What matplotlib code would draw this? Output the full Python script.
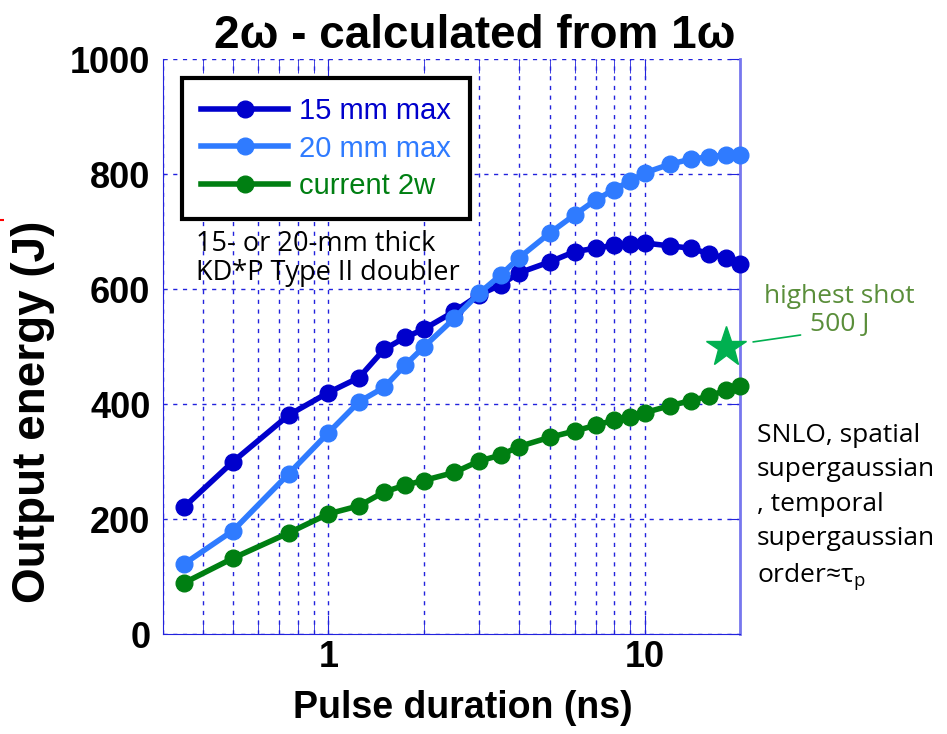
import numpy as np
import matplotlib.pyplot as plt
from matplotlib.ticker import FixedLocator, NullFormatter, FixedFormatter

# --- data ---------------------------------------------------------------
pulse_ns = [0.35, 0.5, 0.75, 1, 1.25, 1.5, 1.75, 2, 2.5, 3, 3.5, 4,
            5, 6, 7, 8, 9, 10, 12, 14, 16, 18, 20]
e_15mm = [221, 300, 381, 420, 446, 495, 516, 530, 561, 590, 607, 628,
          647, 665, 671, 676, 678, 680, 675, 671, 661, 654, 643]
e_20mm = [122, 180, 279, 350, 404, 429, 468, 499, 549, 593, 624, 654,
          697, 729, 755, 773, 788, 802, 817, 826, 830, 833, 833]
e_now = [89, 132, 176, 209, 223, 247, 259, 267, 281, 301, 311, 326,
         342, 353, 363, 372, 378, 385, 397, 406, 414, 424, 432]
shot_ns = 18
shot_J = 500

series_labels = ["15 mm max", "20 mm max", "current 2w"]
series_colors = ["#0000CC", "#2F7BFF", "#007F12"]
y_ticks = [0, 200, 400, 600, 800, 1000]
x_major = [1, 10]
x_major_labels = ["1", "10"]

SANS = ["Liberation Sans", "DejaVu Sans"]
NOTE = ["Open Sans", "DejaVu Sans"]
GRID = "#2222DD"

fig = plt.figure(figsize=(9.47, 7.34), dpi=100)
ax = fig.add_axes([0.1721, 0.1362, 0.6093, 0.7834])
ax.set_xscale("log")
ax.set_xlim(0.3, 20)
ax.set_ylim(0, 1000)

for ys, lab, col in zip([e_15mm, e_20mm, e_now], series_labels, series_colors):
    ax.plot(pulse_ns, ys, "o-", color=col, lw=4, ms=12, label=lab,
            clip_on=False, zorder=4)

ax.plot([shot_ns], [shot_J], marker="*", color="#00B050", ms=30,
        ls="none", clip_on=False, zorder=5)

# --- grid and frame -------------------------------------------------------
minors = [m * d for d in (0.1, 1, 10) for m in range(2, 10)]
minors = [v for v in minors if 0.3 < v < 20]
ax.xaxis.set_major_locator(FixedLocator(x_major))
ax.xaxis.set_major_formatter(FixedFormatter(x_major_labels))
ax.xaxis.set_minor_locator(FixedLocator(minors))
ax.xaxis.set_minor_formatter(NullFormatter())
ax.yaxis.set_major_locator(FixedLocator(y_ticks))
ax.grid(True, which="both", axis="x", color=GRID, ls=(0, (3, 4)), lw=1)
ax.grid(True, which="major", axis="y", color=GRID, ls=(0, (3, 4)), lw=1)
ax.set_axisbelow(True)

ax.spines["top"].set_visible(False)
ax.spines["left"].set_color(GRID)
ax.spines["bottom"].set_color(GRID)
ax.spines["right"].set_color("#7777EE")
ax.spines["right"].set_linewidth(2)
ax.tick_params(axis="x", which="major", direction="in", length=14,
               color=GRID, top=True, pad=4)
ax.tick_params(axis="x", which="minor", direction="in", length=10,
               color=GRID, top=True)
ax.tick_params(axis="y", direction="in", length=8, color=GRID,
               right=True, left=False, pad=9)

for t in ax.get_xticklabels() + ax.get_yticklabels():
    t.set_fontfamily(SANS)
    t.set_fontweight("bold")
    t.set_fontsize(26)

ax.set_xlabel("Pulse duration (ns)", family=SANS, fontweight="bold",
              fontsize=27, va="top")
ax.xaxis.set_label_coords(0.52, -0.097)
ax.set_ylabel("Output energy (J)", family=SANS, fontweight="bold",
              fontsize=33, va="center", ha="center")
ax.yaxis.set_label_coords(-0.225, 0.386)
ax.set_title("2\u03c9 - calculated from 1\u03c9", family=SANS,
             fontweight="bold", fontsize=33, pad=8, x=0.541)

leg = ax.legend(loc="upper left", bbox_to_anchor=(0.033, 0.967),
                borderaxespad=0,
                prop={"family": SANS, "size": 21}, handlelength=3.0,
                borderpad=0.65, labelspacing=0.33, handletextpad=0.35,
                fancybox=False, framealpha=1, edgecolor="black")
leg.get_frame().set_linewidth(3)
for txt, col in zip(leg.get_texts(), series_colors):
    txt.set_color(col)

ax.text(0.058, 0.702, "15- or 20-mm thick\nKD*P Type II doubler",
        transform=ax.transAxes, family=NOTE, fontsize=19.5, va="top",
        linespacing=1.05, zorder=6)

# highest shot label and its leader line
ax.text(1.172, 0.562, "highest shot\n500 J", transform=ax.transAxes,
        family=NOTE, fontsize=19, color="#5A8E3A", ha="center",
        va="center", multialignment="center", linespacing=1.15)
ax.annotate("", xy=(22, 508), xytext=(1.105, 0.52),
            textcoords="axes fraction", annotation_clip=False,
            arrowprops=dict(arrowstyle="-", color="#00B050", lw=1.2,
                            shrinkA=0, shrinkB=0))

fig.text(0.799, 0.424,
         "SNLO, spatial\nsupergaussian\n, temporal\nsupergaussian\norder\u2248\u03c4$_\\mathregular{p}$",
         family=NOTE, fontsize=19, va="top", linespacing=1.5)

# clipped red mark at the left edge
fig.add_artist(plt.Line2D([0, 0.004], [0.70, 0.70], color="red", lw=1.5,
                          ls=(0, (2, 2))))

fig.savefig("out.png", dpi=100)
